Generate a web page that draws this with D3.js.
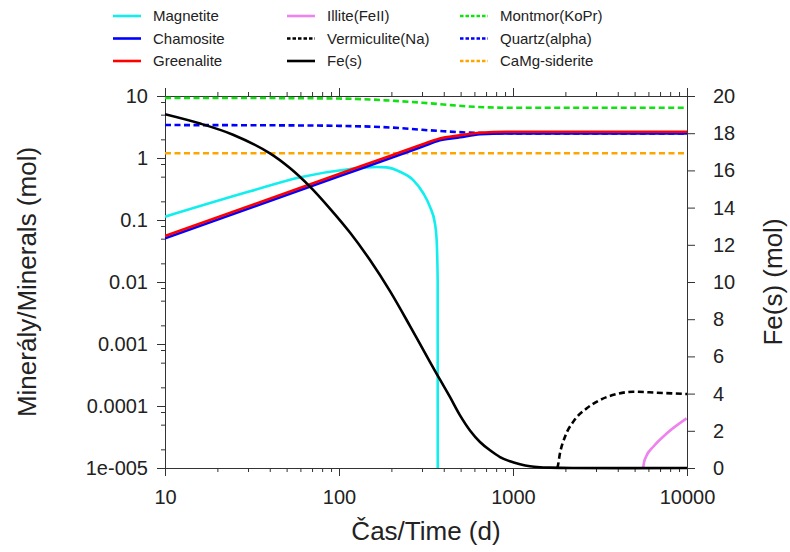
<!DOCTYPE html>
<html lang="en">
<head>
<meta charset="UTF-8">
<title>Mineraly / Minerals</title>
<script src="https://d3js.org/d3.v7.min.js"></script>
<style>
  body { margin: 0; background: #fff; }
  text { font-family: "Liberation Sans", Arial, sans-serif; fill: #222; }
</style>
</head>
<body>
<div id="chart"></div>
<script>
// [time (d), amount (mol)]
const magnetite = [[10,0.113],[30.8,0.29],[60,0.49],[116,0.665],[144,0.705],[165,0.715],[188,0.705],[224,0.60],[267,0.44],
                   [305,0.27],[333,0.164],[356,0.088],[364,0.048],[369,0.0108],[369.5,0]];
const chamosite = [[10,0.0507],[100,0.507],[200,1.01],[300,1.52],[380,1.93],[496,2.16],[646,2.41],[915,2.5],[10000,2.5]];
const greenalite = [[10,0.0552],[100,0.552],[200,1.1],[300,1.65],[375,2.05],[496,2.32],[646,2.55],[915,2.65],[10000,2.65]];
const illite = [[5600,0],[5650,1.2e-5],[5800,1.5e-5],[6398,2.2e-5],[7638,3.6e-5],[9950,6.3e-5]];
const vermiculite = [[1790,0],[1800,1.02e-5],[1862,1.73e-5],[1990,3.2e-5],[2222,5.6e-5],[2655,9.2e-5],[3162,1.25e-4],
                     [3948,1.56e-4],[4913,1.70e-4],[6693,1.64e-4],[10000,1.56e-4]];
const montmor = [[10,9.3],[30,9.3],[60,9.2],[100,9.1],[150,8.8],[200,8.4],[300,7.8],[400,7.3],[600,6.7],[800,6.5],[1000,6.45],[10000,6.45]];
const quartz = [[10,3.4],[60,3.35],[100,3.3],[200,3.1],[300,2.85],[400,2.7],[600,2.55],[1000,2.5],[10000,2.5]];
const siderite = [[10,1.19],[10000,1.19]];
// Fe(s) goes on the right axis
const feS = [[10,19.02],[15.9,18.52],[24.6,17.92],[40.1,16.92],[52.2,16.13],[68.1,15.13],[88.7,13.95],[115.6,12.66],
             [150.7,11.18],[196,9.52],[256,7.63],[333,5.70],[380,4.76],[434,3.82],[496,2.83],[566,2.02],[646,1.40],
             [738,0.95],[842,0.59],[961,0.36],[1097,0.20],[1252,0.09],[1429,0.04],[1632,0.02],[2200,0],[10000,0]];

const xTicks = [10,100,1000,10000];
const yTicks = [10,1,0.1,0.01,0.001,0.0001,0.00001];
const yTickLabels = ["10","1","0.1","0.01","0.001","0.0001","1e-005"];
const feTicks = d3.range(0,21,2);

const series = [
  {name:"Montmor(KoPr)", data:montmor, color:"#11e011", dash:true, axis:"l"},
  {name:"Quartz(alpha)", data:quartz, color:"#0000ff", dash:true, axis:"l"},
  {name:"CaMg-siderite", data:siderite, color:"#ffa500", dash:true, axis:"l"},
  {name:"Magnetite", data:magnetite, color:"#11eeee", dash:false, axis:"l"},
  {name:"Chamosite", data:chamosite, color:"#0000ff", dash:false, axis:"l"},
  {name:"Greenalite", data:greenalite, color:"#ff0000", dash:false, axis:"l"},
  {name:"Illite(FeII)", data:illite, color:"#ee82ee", dash:false, axis:"l"},
  {name:"Vermiculite(Na)", data:vermiculite, color:"#000000", dash:true, axis:"l"},
  {name:"Fe(s)", data:feS, color:"#000000", dash:false, axis:"r"}
];
const legendCols = [["Magnetite","Chamosite","Greenalite"],
                    ["Illite(FeII)","Vermiculite(Na)","Fe(s)"],
                    ["Montmor(KoPr)","Quartz(alpha)","CaMg-siderite"]];

const width = 790, height = 552,
      margin = {left:165, right:103, top:96, bottom:84},
      pw = width - margin.left - margin.right,
      ph = height - margin.top - margin.bottom;

const svg = d3.select("#chart").append("svg")
    .attr("width", width).attr("height", height);

const x = d3.scaleLog().domain([10,10000]).range([0,pw]);
const y = d3.scaleLog().domain([1e-5,10]).range([ph,0]).clamp(true);
const yR = d3.scaleLinear().domain([0,20]).range([ph,0]);

let minorX = [];
[10,100,1000].forEach(d => { for (let k=2;k<10;k++) minorX.push(d*k); });
let minorY = [];
[1e-5,1e-4,1e-3,1e-2,0.1,1].forEach(d => { [2,5,8].forEach(k => minorY.push(d*k)); });

const g = svg.append("g").attr("transform", `translate(${margin.left},${margin.top})`);

g.append("clipPath").attr("id","clip").append("rect")
  .attr("x",0).attr("y",-2).attr("width",pw).attr("height",ph+4);

// axes
function styleAxis(sel){
  sel.selectAll("path,line").attr("stroke","#333").attr("stroke-width",1);
  sel.selectAll("text").attr("font-size",20).attr("font-family",'"Liberation Sans", Arial, sans-serif').attr("fill","#222");
}
g.append("g").attr("transform",`translate(0,${ph})`)
  .call(d3.axisBottom(x).tickValues(minorX).tickSize(4).tickFormat("").tickSizeOuter(0)).call(styleAxis);
g.append("g").attr("transform",`translate(0,${ph})`)
  .call(d3.axisBottom(x).tickValues(xTicks).tickSize(8).tickPadding(14).tickFormat(d3.format("d")).tickSizeOuter(0)).call(styleAxis);
g.append("g")
  .call(d3.axisTop(x).tickValues(minorX).tickSize(4).tickFormat("").tickSizeOuter(0)).call(styleAxis);
g.append("g")
  .call(d3.axisTop(x).tickValues(xTicks).tickSize(8).tickFormat("").tickSizeOuter(0)).call(styleAxis);
g.append("g")
  .call(d3.axisLeft(y).tickValues(minorY).tickSize(4).tickFormat("").tickSizeOuter(0)).call(styleAxis);
g.append("g")
  .call(d3.axisLeft(y).tickValues(yTicks).tickSize(8).tickPadding(9).tickFormat((d,i)=>yTickLabels[i]).tickSizeOuter(0)).call(styleAxis);
g.append("g").attr("transform",`translate(${pw},0)`)
  .call(d3.axisRight(yR).tickValues(feTicks).tickSize(8).tickPadding(18).tickFormat(d3.format("d")).tickSizeOuter(0)).call(styleAxis);

// lines
const lineL = d3.line().x(d=>x(d[0])).y(d=>y(d[1])).curve(d3.curveMonotoneX);
const lineR = d3.line().x(d=>x(d[0])).y(d=>yR(d[1])).curve(d3.curveCatmullRom.alpha(0.5));
g.append("g").attr("clip-path","url(#clip)")
  .selectAll("path").data(series).join("path")
  .attr("d", s => s.axis==="l" ? lineL(s.data) : lineR(s.data))
  .attr("fill","none")
  .attr("stroke", s=>s.color)
  .attr("stroke-width",2.6)
  .attr("stroke-dasharray", s => s.dash ? "6,3.5" : null);

// axis titles
svg.append("text").attr("x", margin.left + pw/2).attr("y", 540)
  .attr("text-anchor","middle").attr("font-size",26).text("Čas/Time (d)");
svg.append("text").attr("transform",`translate(36,${margin.top+ph/2}) rotate(-90)`)
  .attr("text-anchor","middle").attr("font-size",26).text("Minerály/Minerals (mol)");
svg.append("text").attr("transform",`translate(782,${margin.top+ph/2}) rotate(-90)`)
  .attr("text-anchor","middle").attr("font-size",26).text("Fe(s) (mol)");

// legend
const colX = [113,287,460];
legendCols.forEach((col,ci) => {
  col.forEach((name,ri) => {
    const s = series.find(d=>d.name===name);
    const ly = 16 + ri*22.5;
    svg.append("line").attr("x1",colX[ci]).attr("x2",colX[ci]+28).attr("y1",ly).attr("y2",ly)
      .attr("stroke",s.color).attr("stroke-width",2.6)
      .attr("stroke-dasharray", s.dash ? "3.5,2" : null);
    svg.append("text").attr("x",colX[ci]+40).attr("y",ly).attr("dy","0.36em")
      .attr("font-size",15).text(name);
  });
});
</script>
</body>
</html>
